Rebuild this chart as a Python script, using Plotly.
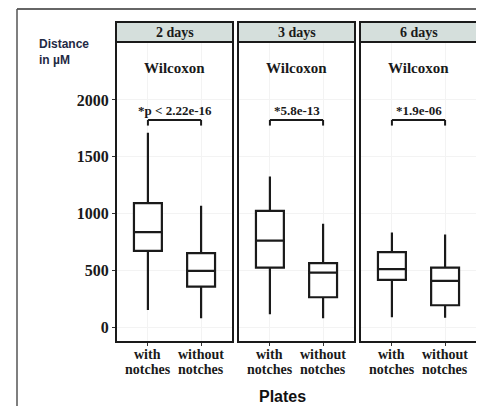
import plotly.graph_objects as go

panels = ["2 days", "3 days", "6 days"]
categories = ["with notches", "without notches"]
tick_lines = [["with", "notches"], ["without", "notches"]]
p_labels = ["*p < 2.22e-16", "*5.8e-13", "*1.9e-06"]

lower = [[156, 83], [118, 83], [91, 88]]
q1 = [[675, 361], [528, 267], [420, 197]]
median = [[839, 499], [765, 484], [514, 411]]
q3 = [[1094, 654], [1026, 566], [663, 528]]
upper = [[1712, 1070], [1328, 912], [836, 818]]

y_ticks = [0, 500, 1000, 1500, 2000]

# page body has an 8px margin: the figure starts at (8, 8) in the window
OFF = 8
W, H = 484 - OFF, 406 - OFF
def px(x): return (x - OFF) / W
def py(y): return 1 - (y - OFF) / H

panel_x = [(116, 233), (238, 355), (360, 477)]
top_px, bot_px, strip_top = 42, 342, 22
YR = [-126, 2509]

SERIF = "Liberation Serif"
fig = go.Figure()
shapes = []
annotations = []

for i, name in enumerate(panels):
    ax = "" if i == 0 else str(i + 1)
    fig.add_trace(go.Box(
        x=categories, q1=q1[i], median=median[i], q3=q3[i],
        lowerfence=lower[i], upperfence=upper[i],
        xaxis="x" + ax, yaxis="y" + ax,
        fillcolor="white", line=dict(color="#1a1a1a", width=2.2),
        whiskerwidth=0, boxpoints=False, showlegend=False, hoverinfo="skip"))
    x0, x1 = panel_x[i]
    fig.layout["xaxis" + ax] = dict(
        domain=[px(x0), px(x1)], anchor="y" + ax, type="category",
        categoryorder="array", categoryarray=categories,
        range=[-0.6, 1.6], tickvals=categories, showticklabels=False,
        ticks="outside", ticklen=3, tickcolor="#333", tickwidth=1,
        showgrid=True, gridcolor="#f3f3f3", gridwidth=1,
        showline=False, zeroline=False, fixedrange=True)
    yd = dict(domain=[py(bot_px), py(top_px)], anchor="x" + ax, range=YR,
              tickvals=y_ticks, showgrid=True, gridcolor="#f3f3f3",
              zeroline=False, showline=False, fixedrange=True)
    if i == 0:
        yd.update(ticks="outside", ticklen=3, tickcolor="#333",
                  ticktext=["<b>%d</b>" % v for v in y_ticks],
                  ticklabelstandoff=0,
                  tickfont=dict(family=SERIF, size=16, color="#1a1a1a"))
    else:
        yd.update(showticklabels=False, matches="y")
    fig.layout["yaxis" + ax] = yd

    # x tick labels (two lines each)
    for k, lines in enumerate(tick_lines):
        for j, t in enumerate(lines):
            annotations.append(dict(text="<b>%s</b>" % t, xref="x" + ax, yref="paper",
                                    x=k, y=py(354 + 15 * j), showarrow=False,
                                    xanchor="center", yanchor="middle",
                                    font=dict(family=SERIF, size=14, color="#1a1a1a")))

    # panel border
    shapes.append(dict(type="rect", xref="paper", yref="paper",
                       x0=px(x0), x1=px(x1), y0=py(bot_px), y1=py(top_px),
                       line=dict(color="#1a1a1a", width=2), fillcolor="rgba(0,0,0,0)"))
    # strip
    shapes.append(dict(type="rect", xref="paper", yref="paper",
                       x0=px(x0), x1=px(x1), y0=py(top_px), y1=py(strip_top),
                       line=dict(color="#1a1a1a", width=2), fillcolor="#d5dfdc"))
    annotations.append(dict(text="<b>%s</b>" % name, xref="paper", yref="paper",
                            x=px((x0 + x1) / 2), y=py((top_px + strip_top) / 2),
                            showarrow=False, xanchor="center", yanchor="middle",
                            font=dict(family=SERIF, size=14, color="#1a1a1a")))
    annotations.append(dict(text="<b>Wilcoxon</b>", xref="paper", yref="paper",
                            x=px((x0 + x1) / 2), y=py(68),
                            showarrow=False, xanchor="center", yanchor="middle",
                            font=dict(family=SERIF, size=15, color="#1a1a1a")))
    # bracket
    xr, yr = "x" + ax, "y" + ax
    for (a, b, c, d) in [(0, 1, 1824, 1824), (0, 0, 1824, 1775), (1, 1, 1824, 1775)]:
        shapes.append(dict(type="line", xref=xr, yref=yr, x0=a, x1=b, y0=c, y1=d,
                           line=dict(color="#1a1a1a", width=2)))
    annotations.append(dict(text="<b>%s</b>" % p_labels[i], xref=xr, yref=yr,
                            x=0.5, y=1905, showarrow=False,
                            xanchor="center", yanchor="middle",
                            font=dict(family=SERIF, size=13, color="#1a1a1a")))

# outer frame lines
shapes.append(dict(type="line", xref="paper", yref="paper", x0=px(17), x1=1,
                   y0=py(9), y1=py(9), line=dict(color="#333", width=1.5)))
shapes.append(dict(type="line", xref="paper", yref="paper", x0=px(17), x1=px(17),
                   y0=py(9), y1=0, line=dict(color="#555", width=1.5)))

annotations.append(dict(text="<b>Distance<br>in µM</b>", xref="paper", yref="paper",
                        x=px(37), y=py(35), showarrow=False, xanchor="left",
                        yanchor="top", align="left",
                        font=dict(family="Liberation Sans", size=12, color="#1f2a44")))
annotations.append(dict(text="<b>Plates</b>", xref="paper", yref="paper",
                        x=px(282), y=py(396), showarrow=False, xanchor="center",
                        yanchor="middle",
                        font=dict(family="Liberation Sans", size=16, color="#111")))

fig.update_layout(width=W, height=H, margin=dict(l=0, r=0, t=0, b=0),
                  paper_bgcolor="white", plot_bgcolor="white",
                  shapes=shapes, annotations=annotations, boxgap=0.25)
fig.write_html("out.html")
